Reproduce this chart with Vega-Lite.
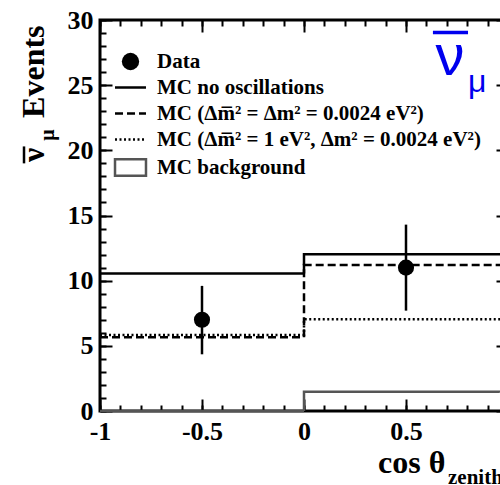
{
  "$schema": "https://vega.github.io/schema/vega-lite/v6.json",
  "width": 408,
  "height": 391,
  "autosize": {"type": "none"},
  "padding": {"left": 100, "top": 20, "right": -8, "bottom": 74},
  "background": "white",
  "config": {
    "view": {"stroke": "black", "strokeWidth": 3},
    "axis": {"grid": false, "domain": false, "title": null, "ticks": true, "tickColor": "black", "tickWidth": 2, "labelFont": "Liberation Serif", "labelFontWeight": "bold", "labelFontSize": 26, "labelColor": "black", "labelOverlap": false, "labelFlush": false}
  },
  "datasets": {
    "hist": [
      {"series": "MC no oscillations", "x": -1, "y": 10.55},
      {"series": "MC no oscillations", "x": 0, "y": 12.03},
      {"series": "MC no oscillations", "x": 1, "y": 12.03},
      {"series": "MC (Δm\u0305\u00b2 = Δm\u00b2 = 0.0024 eV\u00b2)", "x": -1, "y": 5.65},
      {"series": "MC (Δm\u0305\u00b2 = Δm\u00b2 = 0.0024 eV\u00b2)", "x": 0, "y": 11.2},
      {"series": "MC (Δm\u0305\u00b2 = Δm\u00b2 = 0.0024 eV\u00b2)", "x": 1, "y": 11.2},
      {"series": "MC (Δm\u0305\u00b2 = 1 eV\u00b2, Δm\u00b2 = 0.0024 eV\u00b2)", "x": -1, "y": 5.83},
      {"series": "MC (Δm\u0305\u00b2 = 1 eV\u00b2, Δm\u00b2 = 0.0024 eV\u00b2)", "x": 0, "y": 7.04},
      {"series": "MC (Δm\u0305\u00b2 = 1 eV\u00b2, Δm\u00b2 = 0.0024 eV\u00b2)", "x": 1, "y": 7.04},
      {"series": "MC background", "x": -1, "y": 0},
      {"series": "MC background", "x": 0, "y": 1.48},
      {"series": "MC background", "x": 1, "y": 1.48}
    ],
    "pts": [
      {"x": -0.5, "n": 7, "lo": 4.35, "hi": 9.6},
      {"x": 0.5, "n": 11, "lo": 7.7, "hi": 14.3}
    ]
  },
  "layer": [
    {
      "data": {"name": "hist"},
      "mark": {"type": "line", "interpolate": "step-after", "strokeWidth": 2.5},
      "encoding": {
        "x": {"field": "x", "type": "quantitative", "scale": {"domain": [-1, 1], "nice": false, "zero": false},
          "axis": {"orient": "bottom", "values": [-1, -0.5, 0, 0.5, 1], "tickSize": -12,
            "labelExpr": "'' + datum.value", "labelPadding": 19}},
        "y": {"field": "y", "type": "quantitative", "scale": {"domain": [0, 30], "nice": false},
          "axis": {"orient": "left", "values": [0, 5, 10, 15, 20, 25, 30], "tickSize": -12, "labelPadding": 19}},
        "strokeDash": {"field": "series", "type": "nominal",
          "scale": {"domain": ["Data", "MC no oscillations", "MC (Δm\u0305\u00b2 = Δm\u00b2 = 0.0024 eV\u00b2)", "MC (Δm\u0305\u00b2 = 1 eV\u00b2, Δm\u00b2 = 0.0024 eV\u00b2)", "MC background"],
            "range": [[1, 0], [1, 0], [8, 4], [2, 2.5], [1, 0]]},
          "legend": {"orient": "none", "legendX": 20, "legendY": 31, "title": null,
            "labelFont": "Liberation Serif", "labelFontWeight": "bold", "labelFontSize": 21, "labelColor": "black", "labelLimit": 0,
            "symbolSize": 500, "rowPadding": 4, "labelOffset": 16, "symbolStrokeWidth": 2.5, "symbolStrokeColor": "black",
            "encode": {"symbols": {"update": {
              "shape": {"signal": "datum.value === 'Data' ? 'circle' : datum.value === 'MC background' ? 'M-1,-0.53H1V0.53H-1Z' : 'stroke'"},
              "size": {"signal": "datum.value === 'Data' ? 300 : 960"},
              "fill": {"signal": "datum.value === 'Data' ? 'black' : 'transparent'"},
              "stroke": {"signal": "datum.value === 'MC background' ? '#555555' : 'black'"},
              "strokeWidth": {"signal": "datum.value === 'Data' ? 0 : 2.5"},
              "opacity": {"value": 1}
            }}}}},
        "stroke": {"condition": {"test": "datum.series === 'MC background'", "value": "#555555"}, "value": "black"}
      }
    },
    {
      "data": {"name": "pts"},
      "mark": {"type": "rule", "strokeWidth": 2.5, "color": "black"},
      "encoding": {
        "x": {"field": "x", "type": "quantitative", "scale": {"domain": [-1, 1], "nice": false, "zero": false},
          "axis": {"orient": "top", "values": [-1, -0.5, 0, 0.5, 1], "labels": false, "tickSize": -12}},
        "y": {"field": "lo", "type": "quantitative", "scale": {"domain": [0, 30], "nice": false},
          "axis": {"orient": "right", "values": [0, 5, 10, 15, 20, 25, 30], "labels": false, "tickSize": -12}},
        "y2": {"field": "hi"}
      }
    },
    {
      "data": {"name": "pts"},
      "mark": {"type": "point", "filled": true, "size": 260, "color": "black", "opacity": 1},
      "encoding": {
        "x": {"field": "x", "type": "quantitative", "scale": {"domain": [-1, 1], "nice": false, "zero": false},
          "axis": {"orient": "bottom", "values": [-1, -0.9, -0.8, -0.7, -0.6, -0.5, -0.4, -0.3, -0.2, -0.1, 0, 0.1, 0.2, 0.3, 0.4, 0.5, 0.6, 0.7, 0.8, 0.9, 1], "labels": false, "tickSize": -6}},
        "y": {"field": "n", "type": "quantitative", "scale": {"domain": [0, 30], "nice": false},
          "axis": {"orient": "left", "values": [0,1,2,3,4,5,6,7,8,9,10,11,12,13,14,15,16,17,18,19,20,21,22,23,24,25,26,27,28,29,30], "labels": false, "tickSize": -6}}
      }
    },
    {
      "data": {"values": [{"t": "ν"}]},
      "mark": {"type": "text", "font": "Liberation Sans", "fontSize": 58, "color": "#0000ee", "align": "center", "baseline": "alphabetic"},
      "encoding": {
        "x": {"datum": 0.716, "type": "quantitative", "scale": {"domain": [-1, 1], "nice": false, "zero": false},
          "axis": {"orient": "top", "values": [-1, -0.9, -0.8, -0.7, -0.6, -0.5, -0.4, -0.3, -0.2, -0.1, 0, 0.1, 0.2, 0.3, 0.4, 0.5, 0.6, 0.7, 0.8, 0.9, 1], "labels": false, "tickSize": -6}},
        "y": {"datum": 25.75, "type": "quantitative", "scale": {"domain": [0, 30], "nice": false}, "axis": null},
        "text": {"field": "t"}
      }
    },
    {
      "data": {"values": [{"t": "overline"}]},
      "mark": {"type": "rule", "color": "#0000ee", "strokeWidth": 3.5},
      "encoding": {
        "x": {"datum": 0.632, "type": "quantitative", "scale": {"domain": [-1, 1], "nice": false, "zero": false}, "axis": null},
        "x2": {"datum": 0.804},
        "y": {"datum": 29.05, "type": "quantitative", "scale": {"domain": [0, 30], "nice": false}, "axis": null}
      }
    },
    {
      "data": {"values": [{"t": "μ"}]},
      "mark": {"type": "text", "font": "Liberation Sans", "fontSize": 32, "color": "#0000ee", "align": "left", "baseline": "alphabetic"},
      "encoding": {
        "x": {"datum": 0.804, "type": "quantitative", "scale": {"domain": [-1, 1], "nice": false, "zero": false}, "axis": null},
        "y": {"datum": 24.5, "type": "quantitative", "scale": {"domain": [0, 30], "nice": false}, "axis": null},
        "text": {"field": "t"}
      }
    },
    {
      "data": {"values": [{"t": "Events"}]},
      "mark": {"type": "text", "font": "Liberation Serif", "fontWeight": "bold", "fontSize": 32, "color": "black", "angle": 270, "align": "left", "baseline": "alphabetic"},
      "encoding": {
        "x": {"datum": -1.2745, "type": "quantitative", "scale": {"domain": [-1, 1], "nice": false, "zero": false}, "axis": null},
        "y": {"datum": 22.49, "type": "quantitative", "scale": {"domain": [0, 30], "nice": false}, "axis": null},
        "text": {"field": "t"}
      }
    },
    {
      "data": {"values": [{"t": "ν"}]},
      "mark": {"type": "text", "font": "Liberation Serif", "fontWeight": "bold", "fontSize": 32, "color": "black", "angle": 270, "align": "center", "baseline": "alphabetic"},
      "encoding": {
        "x": {"datum": -1.2745, "type": "quantitative", "scale": {"domain": [-1, 1], "nice": false, "zero": false}, "axis": null},
        "y": {"datum": 19.65, "type": "quantitative", "scale": {"domain": [0, 30], "nice": false}, "axis": null},
        "text": {"field": "t"}
      }
    },
    {
      "data": {"values": [{"t": "overline"}]},
      "mark": {"type": "rule", "color": "black", "strokeWidth": 2.5},
      "encoding": {
        "x": {"datum": -1.3725, "type": "quantitative", "scale": {"domain": [-1, 1], "nice": false, "zero": false}, "axis": null},
        "y": {"datum": 20.3, "type": "quantitative", "scale": {"domain": [0, 30], "nice": false}, "axis": null},
        "y2": {"datum": 19.0}
      }
    },
    {
      "data": {"values": [{"t": "μ"}]},
      "mark": {"type": "text", "font": "Liberation Serif", "fontWeight": "bold", "fontSize": 20, "color": "black", "angle": 270, "align": "center", "baseline": "alphabetic"},
      "encoding": {
        "x": {"datum": -1.2255, "type": "quantitative", "scale": {"domain": [-1, 1], "nice": false, "zero": false}, "axis": null},
        "y": {"datum": 21.18, "type": "quantitative", "scale": {"domain": [0, 30], "nice": false}, "axis": null},
        "text": {"field": "t"}
      }
    },
    {
      "data": {"values": [{"t": "cos θ"}]},
      "mark": {"type": "text", "font": "Liberation Serif", "fontWeight": "bold", "fontSize": 32, "color": "black", "align": "left", "baseline": "alphabetic"},
      "encoding": {
        "x": {"datum": 0.3627, "type": "quantitative", "scale": {"domain": [-1, 1], "nice": false, "zero": false}, "axis": null},
        "y": {"datum": -4.76, "type": "quantitative", "scale": {"domain": [0, 30], "nice": false}, "axis": null},
        "text": {"field": "t"}
      }
    },
    {
      "data": {"values": [{"t": "zenith"}]},
      "mark": {"type": "text", "font": "Liberation Serif", "fontWeight": "bold", "fontSize": 21, "color": "black", "align": "left", "baseline": "alphabetic"},
      "encoding": {
        "x": {"datum": 0.7059, "type": "quantitative", "scale": {"domain": [-1, 1], "nice": false, "zero": false}, "axis": null},
        "y": {"datum": -5.6, "type": "quantitative", "scale": {"domain": [0, 30], "nice": false}, "axis": null},
        "text": {"field": "t"}
      }
    }
  ],
  "resolve": {"axis": {"x": "independent", "y": "independent"}}
}
